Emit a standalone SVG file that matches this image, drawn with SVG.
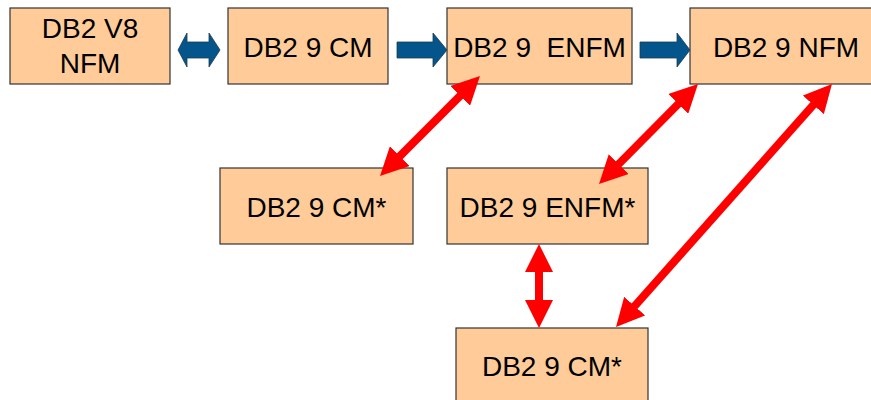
<svg xmlns="http://www.w3.org/2000/svg" width="871" height="400" viewBox="0 0 871 400">
<style>
.box{fill:#FFCC99;stroke:#333333;stroke-width:1.2}
.t{font-family:"Liberation Sans",Arial,sans-serif;font-size:28px;fill:#000;text-anchor:middle;white-space:pre}
.blue{fill:#03558B;stroke:#1E3A52;stroke-width:0.8}
.red{stroke:#FF0000;stroke-width:8;fill:none;marker-start:url(#rh);marker-end:url(#rh)}
</style>
<defs>
<marker id="rh" viewBox="0 0 28 28" refX="2" refY="14" markerWidth="28" markerHeight="28" markerUnits="userSpaceOnUse" orient="auto-start-reverse">
<path d="M0,0 L28,14 L0,28 z" fill="#FF0000"/>
</marker>
</defs>
<rect width="871" height="400" fill="#FFFFFF"/>
<g id="n1"><rect class="box" x="10" y="8" width="160" height="76"/><text class="t" x="90" y="38">DB2 V8</text><text class="t" x="90" y="73">NFM</text></g>
<g id="n2"><rect class="box" x="228" y="8" width="160" height="76"/><text class="t" x="308" y="57">DB2 9 CM</text></g>
<g id="n3"><rect class="box" x="447" y="8" width="185" height="76"/><text class="t" x="539.5" y="57" xml:space="preserve">DB2 9  ENFM</text></g>
<g id="n4"><rect class="box" x="690" y="8" width="194" height="76"/><text class="t" x="786" y="57">DB2 9 NFM</text></g>
<g id="n5"><rect class="box" x="220" y="168" width="193" height="76"/><text class="t" x="316.5" y="217">DB2 9 CM*</text></g>
<g id="n6"><rect class="box" x="447" y="168" width="201" height="76"/><text class="t" x="547.5" y="217">DB2 9 ENFM*</text></g>
<g id="n7"><rect class="box" x="456" y="328" width="192" height="76"/><text class="t" x="552" y="376">DB2 9 CM*</text></g>
<g id="connectors">
<polygon class="blue" points="178,50 187,33 187,42 209,42 209,33 220,50 209,67 209,58 187,58 187,67"/>
<polygon class="blue" points="397,42 433,42 433,33 447,50 433,67 433,58 397,58"/>
<polygon class="blue" points="640,42 677,42 677,33 690,50 677,67 677,58 640,58"/>
<line class="red" x1="461.6" y1="94.4" x2="398.4" y2="157.6"/>
<line class="red" x1="679.7" y1="102.5" x2="617.3" y2="165.5"/>
<line class="red" x1="539" y1="270" x2="539" y2="302"/>
<line class="red" x1="814.7" y1="103.4" x2="633.3" y2="307.6"/>
</g>
</svg>
